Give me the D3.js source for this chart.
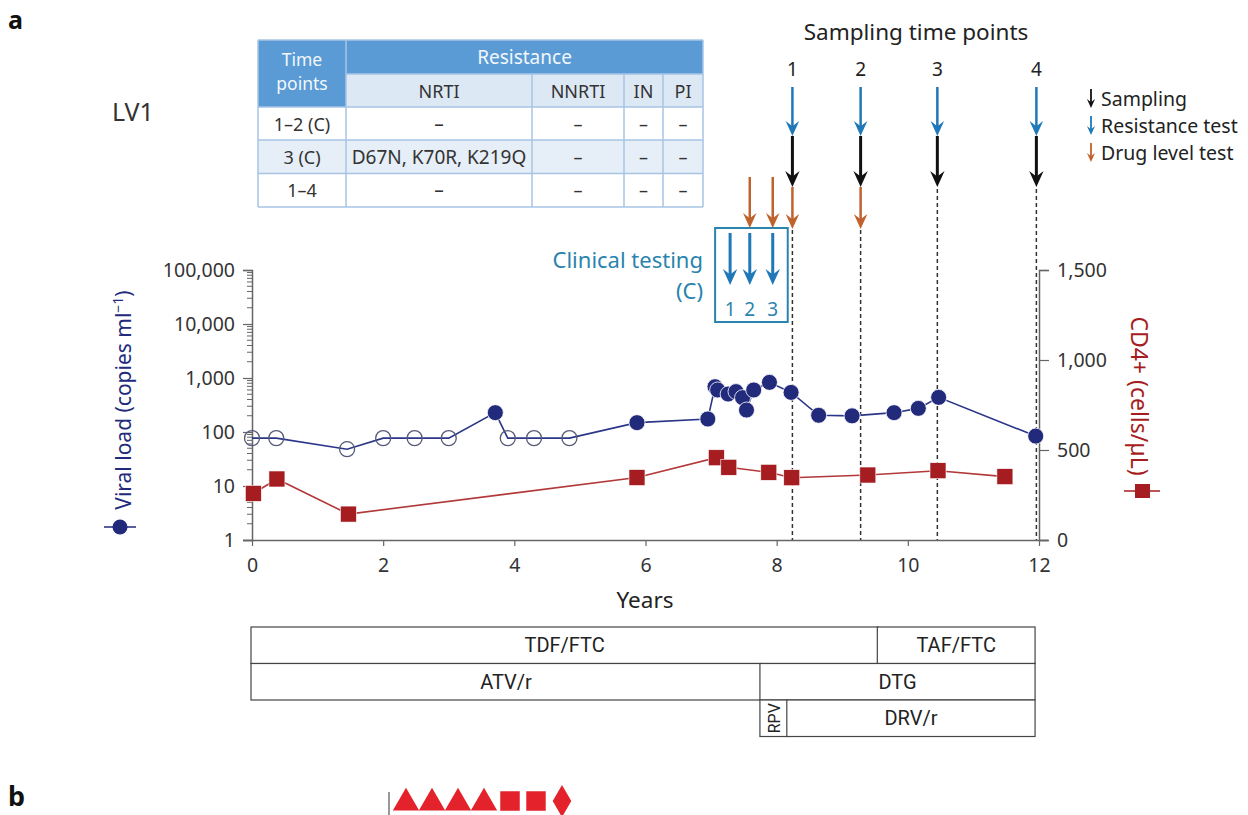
<!DOCTYPE html>
<html>
<head>
<meta charset="utf-8">
<script src="https://cdn.jsdelivr.net/npm/d3@7"></script>
<style>
  body { margin: 0; background: #fff; }
  svg { font-family: "Noto Sans", "Liberation Sans", sans-serif; }
</style>
</head>
<body>
<svg width="1248" height="815"></svg>
<script>
// LV1 viral load / CD4 timeline

// viral load (copies/ml), open = below detection
var vlYears = [0.0, 0.37, 1.45, 2.0, 2.48, 3.0, 3.71, 3.9, 4.3, 4.84, 5.87, 6.95, 7.06, 7.1, 7.26, 7.38, 7.48, 7.54, 7.65, 7.89, 8.22, 8.64, 9.15, 9.79, 10.16, 10.47, 11.95];
var vlValues = [77, 77, 48, 77, 77, 77, 228, 77, 77, 77, 149, 174, 690, 600, 505, 560, 433, 255, 600, 830, 541, 204, 199, 228, 274, 438, 84];
var vlDetected = [0, 0, 0, 0, 0, 0, 1, 0, 0, 0, 1, 1, 1, 1, 1, 1, 1, 1, 1, 1, 1, 1, 1, 1, 1, 1, 1];

// CD4+ cells/uL
var cd4Years = [0.02, 0.38, 1.47, 5.87, 7.08, 7.27, 7.88, 8.23, 9.39, 10.46, 11.48];
var cd4Values = [259, 339, 144, 347, 457, 404, 376, 346, 361, 385, 352];

var samplingYears = [8.24, 9.28, 10.45, 11.96];
var samplingLabels = ["1", "2", "3", "4"];
var samplingDrugLevel = [true, true, false, false];
var clinicalYears = [7.29, 7.59, 7.94];
var clinicalLabels = ["1", "2", "3"];
var clinicalDrugLevel = [false, true, true];

var xTicks = [0, 2, 4, 6, 8, 10, 12];
var vlTicks = [1, 10, 100, 1000, 10000, 100000];
var cd4Ticks = [0, 500, 1000, 1500];

// treatment regimens
var regNames = ["TDF/FTC", "TAF/FTC", "ATV/r", "DTG", "RPV", "DRV/r"];
var regRow = [0, 0, 1, 1, 2, 2];
var regStart = [0, 9.55, 0, 7.76, 7.76, 8.17];
var regEnd = [9.55, 11.94, 7.76, 11.94, 8.17, 11.94];

// resistance table
var tpLabels = ["1–2 (C)", "3 (C)", "1–4"];
var nrti = ["–", "D67N, K70R, K219Q", "–"];
var nnrti = ["–", "–", "–"];
var inRes = ["–", "–", "–"];
var piRes = ["–", "–", "–"];
var classNames = ["NRTI", "NNRTI", "IN", "PI"];

var navy = "#222a7c", red = "#a51d21", blue = "#1f78b8", orange = "#c0622e",
    teal = "#2a84ad", axisCol = "#666", txt = "#333";

var svg = d3.select("svg");
svg.append("rect").attr("width", 1248).attr("height", 815).attr("fill", "#fff");

var x = d3.scaleLinear().domain([0, 12]).range([252, 1039]);
var yVl = d3.scaleLog().domain([1, 100000]).range([540, 270]);
var yCd4 = d3.scaleLinear().domain([0, 1500]).range([540, 270]);

// panel letters
svg.append("text").attr("x", 8).attr("y", 29).attr("font-size", 25).attr("font-weight", "bold").attr("fill", "#111").text("a");
svg.append("text").attr("x", 8).attr("y", 806).attr("font-size", 27).attr("font-weight", "bold").attr("fill", "#111").text("b");
svg.append("text").attr("x", 112).attr("y", 121).attr("font-size", 25).attr("fill", txt).text("LV1");

// ---------- resistance table ----------
var tb = svg.append("g");
var colX = [258, 346, 532, 624, 663, 703];
var rowY = [40, 74, 107, 140, 173.5, 207];
var border = "#a7c4e4";
tb.append("rect").attr("x", colX[0]).attr("y", rowY[0]).attr("width", colX[5] - colX[0]).attr("height", rowY[2] - rowY[0]).attr("fill", "#5b9bd5");
tb.append("rect").attr("x", colX[1]).attr("y", rowY[1]).attr("width", colX[5] - colX[1]).attr("height", rowY[2] - rowY[1]).attr("fill", "#dde8f5");
tb.append("rect").attr("x", colX[0]).attr("y", rowY[3]).attr("width", colX[5] - colX[0]).attr("height", rowY[4] - rowY[3]).attr("fill", "#e6eef8");
// grid lines
[rowY[2], rowY[3], rowY[4], rowY[5]].forEach(function(y) {
  tb.append("line").attr("x1", colX[0]).attr("x2", colX[5]).attr("y1", y).attr("y2", y).attr("stroke", border).attr("stroke-width", 1.5);
});
tb.append("line").attr("x1", colX[1]).attr("x2", colX[5]).attr("y1", rowY[1]).attr("y2", rowY[1]).attr("stroke", border).attr("stroke-width", 1.5);
tb.append("line").attr("x1", colX[0]).attr("x2", colX[5]).attr("y1", rowY[0]).attr("y2", rowY[0]).attr("stroke", border).attr("stroke-width", 1.5);
colX.forEach(function(cx, i) {
  var top = (i == 0 || i == 1 || i == 5) ? rowY[0] : rowY[1];
  tb.append("line").attr("x1", cx).attr("x2", cx).attr("y1", top).attr("y2", rowY[5]).attr("stroke", border).attr("stroke-width", 1.5);
});
tb.append("text").attr("x", (colX[0] + colX[1]) / 2).attr("y", 66).attr("text-anchor", "middle").attr("font-size", 17.5).attr("fill", "#f2f7fc").text("Time");
tb.append("text").attr("x", (colX[0] + colX[1]) / 2).attr("y", 90).attr("text-anchor", "middle").attr("font-size", 17.5).attr("fill", "#f2f7fc").text("points");
tb.append("text").attr("x", (colX[1] + colX[5]) / 2).attr("y", 64).attr("text-anchor", "middle").attr("font-size", 19).attr("fill", "#f2f7fc").text("Resistance");
classNames.forEach(function(c, i) {
  tb.append("text").attr("x", (colX[i + 1] + colX[i + 2]) / 2).attr("y", 98).attr("text-anchor", "middle").attr("font-size", 18).attr("fill", txt).text(c);
});
var cols = [tpLabels, nrti, nnrti, inRes, piRes];
cols.forEach(function(col, ci) {
  col.forEach(function(v, ri) {
    tb.append("text").attr("x", (colX[ci] + colX[ci + 1]) / 2).attr("y", (rowY[ri + 2] + rowY[ri + 3]) / 2 + 7)
      .attr("text-anchor", "middle").attr("font-size", ci == 1 ? 19 : 18).attr("fill", txt).text(v);
  });
});

// ---------- arrows ----------
function arrow(g, ax, y1, y2, color, w, head) {
  g.append("line").attr("x1", ax).attr("x2", ax).attr("y1", y1).attr("y2", y2 - head * 0.6)
    .attr("stroke", color).attr("stroke-width", w);
  g.append("path")
    .attr("d", "M" + (ax - head * 0.45) + "," + (y2 - head) + " L" + ax + "," + y2 + " L" + (ax + head * 0.45) + "," + (y2 - head) + " L" + ax + "," + (y2 - head * 0.65) + "Z")
    .attr("fill", color);
}

var ag = svg.append("g");
svg.append("text").attr("x", 916).attr("y", 40).attr("text-anchor", "middle").attr("font-size", 22.5).attr("fill", "#222").text("Sampling time points");
samplingYears.forEach(function(t, i) {
  var sx = x(t);
  ag.append("text").attr("x", sx).attr("y", 76).attr("text-anchor", "middle").attr("font-size", 19).attr("fill", "#222").text(samplingLabels[i]);
  arrow(ag, sx, 87, 136, blue, 2.5, 15);
  arrow(ag, sx, 136, 187, "#111", 3, 16);
  var dashTop = 189;
  if (samplingDrugLevel[i]) {
    arrow(ag, sx, 187, 229, orange, 2.5, 15);
    dashTop = 230;
  }
  ag.append("line").attr("x1", sx).attr("x2", sx).attr("y1", dashTop).attr("y2", 540)
    .attr("stroke", "#333").attr("stroke-width", 1.5).attr("stroke-dasharray", "4,3");
});

// clinical testing box
var cg = svg.append("g");
var bx0 = x(clinicalYears[0]) - 15, bx1 = x(clinicalYears[2]) + 15;
cg.append("rect").attr("x", bx0).attr("y", 228).attr("width", bx1 - bx0).attr("height", 94)
  .attr("fill", "none").attr("stroke", teal).attr("stroke-width", 2);
clinicalYears.forEach(function(t, i) {
  arrow(cg, x(t), 233, 285, blue, 3, 16);
  cg.append("text").attr("x", x(t)).attr("y", 316).attr("text-anchor", "middle").attr("font-size", 19).attr("fill", teal).text(clinicalLabels[i]);
  if (clinicalDrugLevel[i]) arrow(cg, x(t), 177, 228, orange, 2.5, 15);
});
cg.append("text").attr("x", 703).attr("y", 268).attr("text-anchor", "end").attr("font-size", 22).attr("fill", teal).text("Clinical testing");
cg.append("text").attr("x", 703).attr("y", 299).attr("text-anchor", "end").attr("font-size", 22).attr("fill", teal).text("(C)");

// legend
var lg = svg.append("g");
var legItems = [["Sampling", "#111"], ["Resistance test", blue], ["Drug level test", orange]];
legItems.forEach(function(d, i) {
  var ly = 99 + i * 27;
  arrow(lg, 1091, ly - 10, ly + 9, d[1], 1.8, 9);
  lg.append("text").attr("x", 1101).attr("y", ly + 7).attr("font-size", 19.5).attr("fill", "#222").text(d[0]);
});

// ---------- axes ----------
var axG = svg.append("g");
axG.append("line").attr("x1", 243).attr("x2", 1048).attr("y1", 540.5).attr("y2", 540.5).attr("stroke", axisCol).attr("stroke-width", 1.5);
var xAxis = axG.append("g").attr("transform", "translate(0,541)")
  .call(d3.axisBottom(x).tickValues(xTicks).tickSize(5).tickPadding(12));
xAxis.select(".domain").remove();
xAxis.selectAll("line").attr("stroke", axisCol).attr("stroke-width", 1.2);
xAxis.selectAll("text").attr("font-size", 19.5).attr("fill", txt).attr("font-family", "Noto Sans");
axG.append("text").attr("x", 645).attr("y", 608).attr("text-anchor", "middle").attr("font-size", 22.5).attr("fill", "#222").text("Years");

var yAxisL = axG.append("g").attr("transform", "translate(252,0)")
  .call(d3.axisLeft(yVl).tickValues(vlTicks).tickFormat(d3.format(",")).tickSize(9).tickPadding(8));
yAxisL.select(".domain").attr("stroke", axisCol).attr("stroke-width", 1.5);
yAxisL.selectAll("line").attr("stroke", axisCol).attr("stroke-width", 1.2);
yAxisL.selectAll("text").attr("font-size", 19.5).attr("fill", txt).attr("font-family", "Noto Sans");
var minor = [];
for (var dec = 1; dec < 100000; dec *= 10) {
  for (var m = 2; m <= 9; m++) minor.push(dec * m);
}
axG.selectAll(".minorTick").data(minor).enter().append("line")
  .attr("x1", 247).attr("x2", 252).attr("y1", function(d) { return yVl(d); }).attr("y2", function(d) { return yVl(d); })
  .attr("stroke", axisCol).attr("stroke-width", 1);

var yAxisR = axG.append("g").attr("transform", "translate(1039,0)")
  .call(d3.axisRight(yCd4).tickValues(cd4Ticks).tickFormat(d3.format(",")).tickSize(10).tickPadding(8));
yAxisR.select(".domain").attr("stroke", axisCol).attr("stroke-width", 1.5);
yAxisR.selectAll("line").attr("stroke", axisCol).attr("stroke-width", 1.2);
yAxisR.selectAll("text").attr("font-size", 19.5).attr("fill", txt).attr("font-family", "Noto Sans");

// axis titles with legend markers
var lt = axG.append("text").attr("transform", "translate(131,400) rotate(-90)").attr("text-anchor", "middle")
  .attr("font-size", 21).attr("fill", navy);
lt.append("tspan").text("Viral load (copies ml");
lt.append("tspan").attr("font-size", 14).attr("dy", -8).text("−1");
lt.append("tspan").attr("dy", 8).text(")");
axG.append("line").attr("x1", 104).attr("x2", 136).attr("y1", 527).attr("y2", 527).attr("stroke", navy).attr("stroke-width", 1.5);
axG.append("circle").attr("cx", 120).attr("cy", 527).attr("r", 7.5).attr("fill", navy);

axG.append("text").attr("transform", "translate(1131,396) rotate(90)").attr("text-anchor", "middle")
  .attr("font-size", 23).attr("fill", red).text("CD4+ (cells/µL)");
axG.append("line").attr("x1", 1124).attr("x2", 1160).attr("y1", 491).attr("y2", 491).attr("stroke", red).attr("stroke-width", 1.5);
axG.append("rect").attr("x", 1135).attr("y", 484).attr("width", 15).attr("height", 14).attr("fill", red);

// ---------- series ----------
var vlData = vlYears.map(function(t, i) { return {t: t, v: vlValues[i], det: vlDetected[i]}; });
var cd4Data = cd4Years.map(function(t, i) { return {t: t, v: cd4Values[i]}; });

svg.append("path").datum(cd4Data)
  .attr("d", d3.line().x(function(d) { return x(d.t); }).y(function(d) { return yCd4(d.v); }))
  .attr("fill", "none").attr("stroke", "#b3383a").attr("stroke-width", 1.6);
svg.append("g").selectAll("rect").data(cd4Data).enter().append("rect")
  .attr("x", function(d) { return x(d.t) - 8; })
  .attr("y", function(d) { return yCd4(d.v) - 8; })
  .attr("width", 16).attr("height", 16)
  .attr("fill", red).attr("stroke", "#fff").attr("stroke-width", 0.6);

svg.append("path").datum(vlData)
  .attr("d", d3.line().x(function(d) { return x(d.t); }).y(function(d) { return yVl(d.v); }))
  .attr("fill", "none").attr("stroke", "#2b3688").attr("stroke-width", 1.6);
svg.append("g").selectAll("circle").data(vlData).enter().append("circle")
  .attr("cx", function(d) { return x(d.t); })
  .attr("cy", function(d) { return yVl(d.v); })
  .attr("r", function(d) { return d.det ? 8 : 7.5; })
  .attr("fill", function(d) { return d.det ? navy : "#fff"; })
  .attr("fill-opacity", function(d) { return d.det ? 1 : 0; })
  .attr("stroke", function(d) { return d.det ? "#fff" : "#555a78"; })
  .attr("stroke-width", function(d) { return d.det ? 0.8 : 1.3; });

// ---------- regimen bars ----------
var rg = svg.append("g");
var rowTop = [627, 663.5, 700];
var rowH = 36.5;
regNames.forEach(function(name, i) {
  var x0 = x(regStart[i]) - 1, x1 = x(regEnd[i]);
  if (regStart[i] == 0) x0 = 251;
  var y0 = rowTop[regRow[i]];
  rg.append("rect").attr("x", x0).attr("y", y0).attr("width", x1 - x0).attr("height", rowH)
    .attr("fill", "#fff").attr("stroke", "#444").attr("stroke-width", 1.2);
  var cx = (x0 + x1) / 2, cy = y0 + rowH / 2;
  if (x1 - x0 < 40) {
    rg.append("text").attr("transform", "translate(" + (cx + 6) + "," + cy + ") rotate(-90)")
      .attr("text-anchor", "middle").attr("font-size", 16).attr("font-family", "Liberation Sans Narrow, Roboto, sans-serif").attr("fill", "#222").text(name);
  } else {
    rg.append("text").attr("x", cx).attr("y", cy + 7).attr("text-anchor", "middle").attr("font-size", 20)
      .attr("font-family", "Liberation Sans Narrow, Roboto, sans-serif").attr("fill", "#222").text(name);
  }
});

// ---------- panel b (top edge only) ----------
var bSymbols = [d3.symbolTriangle, d3.symbolTriangle, d3.symbolTriangle, d3.symbolTriangle, d3.symbolSquare, d3.symbolSquare, d3.symbolDiamond];
var bX = [406, 432, 458, 484, 510, 536, 562];
svg.append("line").attr("x1", 389).attr("x2", 389).attr("y1", 792).attr("y2", 815).attr("stroke", "#555").attr("stroke-width", 1.2);
svg.append("g").selectAll("path").data(bSymbols).enter().append("path")
  .attr("transform", function(d, i) { return "translate(" + bX[i] + "," + (i < 4 ? 803 : 801) + ")"; })
  .attr("d", function(d, i) { return d3.symbol().type(d).size(i < 4 ? 300 : (i < 6 ? 380 : 300))(); })
  .attr("fill", "#e3222b");
</script>
</body>
</html>
